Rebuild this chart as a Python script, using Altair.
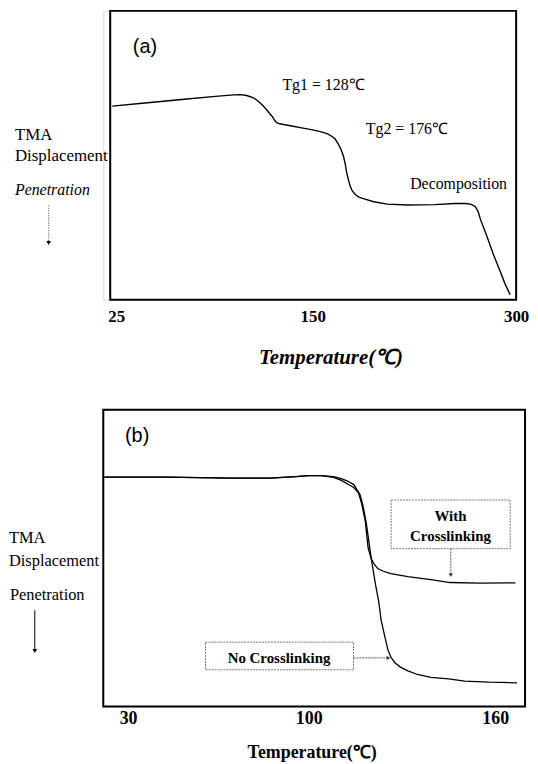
import altair as alt
import pandas as pd

SERIF = "Liberation Serif"
SANS = "Liberation Sans"

# ---------------- Panel (a) data ----------------
a_temp = [22.5, 45, 70, 90, 100, 104, 108, 112, 115, 118, 121, 123.3, 124.5, 125.4, 126.5,
          127.5, 129, 135, 143, 150, 157, 161, 164, 166.5, 169, 171, 172.7, 174, 175.1,
          176.3, 177.6, 179, 181.2, 184, 188.6, 195, 205, 220, 240, 255, 263, 267, 270,
          272, 273.7, 278, 283, 288, 292, 295.6]
a_disp = [67.0, 68.2, 69.5, 70.5, 70.9, 71.0, 70.7, 70.0, 68.9, 67.4, 65.6, 64.0, 63.3, 62.4,
          61.6, 61.2, 60.9, 60.3, 59.5, 58.8, 58.0, 57.4, 56.6, 55.7, 53.8, 51.9, 49.7, 47.0,
          44.0, 41.6, 39.4, 37.8, 36.5, 35.5, 34.8, 33.9, 33.1, 32.8, 32.9, 33.3, 33.3, 33.0,
          32.2, 30.5, 27.8, 22.6, 16.0, 10.1, 5.3, 1.7]
a_ticks = [25, 150, 300]
a_notes = ["Tg1 = 128℃", "Tg2 = 176℃", "Decomposition"]
a_notes_t = [158.0, 219.5, 257.6]
a_notes_v = [74.2, 59.1, 40.2]

# ---------------- Panel (b) data ----------------
b_temp_with = [20.8, 45, 70, 85, 95, 100, 104, 108, 110.5, 112.5, 114.5, 116, 117, 118.2, 119.1,
               120.1, 121.2, 122.2, 124, 126.4, 131.9, 139.3, 145.5, 155, 166.5]
b_disp_with = [77.3, 77.3, 77.0, 77.0, 77.5, 77.8, 77.8, 77.2, 76.2, 75.0, 73.8, 72.0, 68.5, 62.5,
               53.5, 49.8, 47.8, 46.5, 45.6, 44.8, 43.8, 42.8, 41.8, 41.6, 41.7]
b_temp_no = [20.8, 45, 70, 85, 95, 100, 104, 108, 110.5, 112.5, 114.5, 116.5, 117.5, 118.5, 119.3,
             120.1, 121.5, 122.5, 123.3, 124.5, 125.5, 126.5, 127.8, 129.5, 131.9, 135, 139.3,
             145, 150.2, 158, 167]
b_disp_no = [77.3, 77.3, 77.0, 77.0, 77.5, 77.8, 77.8, 77.5, 76.8, 76.0, 74.8, 71.5, 67.5, 62.0,
             56.0, 50.0, 41.0, 35.5, 29.1, 23.5, 19.0, 16.5, 14.7, 13.3, 12.0, 10.8, 9.8, 9.3,
             8.6, 8.2, 8.0]
b_ticks = [30, 100, 160]

# ---------------- shared helpers ----------------
one = pd.DataFrame({"k": [0]})


def ptext(txt, x, y, size=17, style="normal", weight="normal", font=SERIF, align="left"):
    return alt.Chart(one).mark_text(
        text=txt, font=font, fontSize=size, fontStyle=style, fontWeight=weight,
        align=align, baseline="middle", color="black"
    ).encode(x=alt.value(x), y=alt.value(y))


def frame(x0, x1, h):
    return alt.Chart(one).mark_rect(fillOpacity=0, stroke="black", strokeWidth=2).encode(
        x=alt.value(x0), x2=alt.value(x1), y=alt.value(0), y2=alt.value(h))


def left_anchor():
    return alt.Chart(one).mark_rule(opacity=0).encode(
        x=alt.value(-95), y=alt.value(0), y2=alt.value(5))


def xaxis(ticks, title, tsize, tstyle, lsize, lpad, tpad, titleX=None):
    kw = dict(values=ticks, title=title, domain=False, ticks=False, tickSize=0, grid=False,
              format="d", labelFont=SERIF, labelFontSize=lsize, labelFontWeight="bold",
              labelColor="black", labelPadding=lpad, labelFlush=False, labelOverlap=False,
              titleFont=SERIF, titleFontSize=tsize, titleFontWeight="bold",
              titleFontStyle=tstyle, titleColor="black", titlePadding=tpad)
    if titleX is not None:
        kw["titleX"] = titleX
    return alt.Axis(**kw)


# ---------------- Panel (a) ----------------
WA, HA = 416, 291
xa = alt.Scale(domain=a_ticks, range=[13, 211, 416], nice=False, zero=False)
ya = alt.Scale(domain=[0, 100], nice=False, zero=False)

df_a = pd.DataFrame({"T": a_temp, "v": a_disp})
line_a = alt.Chart(df_a).mark_line(color="black", strokeWidth=1.4).encode(
    x=alt.X("T:Q", scale=xa, axis=xaxis(a_ticks, "Temperature(℃)", 21, "italic", 17, 9, 22, 229)),
    y=alt.Y("v:Q", scale=ya, axis=None),
)
notes_a = alt.Chart(pd.DataFrame({"T": a_notes_t, "v": a_notes_v, "t": a_notes})).mark_text(
    font=SERIF, fontSize=16, color="black").encode(
    x=alt.X("T:Q", scale=xa), y=alt.Y("v:Q", scale=ya), text="t:N")
label_a = alt.Chart(pd.DataFrame({"T": [43.3], "v": [87.6], "t": ["(a)"]})).mark_text(
    font=SANS, fontSize=20, color="black").encode(
    x=alt.X("T:Q", scale=xa), y=alt.Y("v:Q", scale=ya), text="t:N")

arrow_a = alt.Chart(one).mark_rule(color="#444", strokeDash=[1, 1.5], strokeWidth=1).encode(
    x=alt.value(-55), y=alt.value(196), y2=alt.value(233))
head_a = alt.Chart(one).mark_point(shape="triangle-down", filled=True, size=22, color="black",
                                   opacity=1).encode(x=alt.value(-55), y=alt.value(234))

panel_a = alt.layer(
    left_anchor(), frame(7, 416, HA), line_a, notes_a, label_a,
    ptext("TMA", -89, 125), ptext("Displacement", -89, 146),
    ptext("Penetration", -89, 181, size=16, style="italic"),
    arrow_a, head_a,
).properties(width=WA, height=HA)

# ---------------- Panel (b) ----------------
WB, HB = 425, 299
xb = alt.Scale(domain=b_ticks, range=[25, 207, 395], nice=False, zero=False)
yb = alt.Scale(domain=[0, 100], nice=False, zero=False)

df_b = pd.concat([
    pd.DataFrame({"T": b_temp_with, "v": b_disp_with, "s": "With Crosslinking"}),
    pd.DataFrame({"T": b_temp_no, "v": b_disp_no, "s": "No Crosslinking"}),
])
line_b = alt.Chart(df_b).mark_line(color="black", strokeWidth=1.3).encode(
    x=alt.X("T:Q", scale=xb, axis=xaxis(b_ticks, "Temperature(℃)", 18, "normal", 18, 3, 16)),
    y=alt.Y("v:Q", scale=yb, axis=None),
    detail="s:N",
)
boxes_b = alt.Chart(pd.DataFrame({
    "t0": [126.5, 60.0], "t1": [164.8, 114.4], "v0": [53.2, 12.4], "v1": [69.6, 21.7]})
).mark_rect(fillOpacity=0, stroke="#777", strokeDash=[2, 1], strokeWidth=1).encode(
    x=alt.X("t0:Q", scale=xb), x2="t1:Q", y=alt.Y("v0:Q", scale=yb), y2="v1:Q")
box_text_b = alt.Chart(pd.DataFrame({
    "T": [145.6, 145.6, 88.5], "v": [64.2, 57.5, 16.4],
    "t": ["With", "Crosslinking", "No Crosslinking"]})).mark_text(
    font=SERIF, fontSize=15, fontWeight="bold", color="black").encode(
    x=alt.X("T:Q", scale=xb), y=alt.Y("v:Q", scale=yb), text="t:N")
label_b = alt.Chart(pd.DataFrame({"T": [33.5], "v": [91.0], "t": ["(b)"]})).mark_text(
    font=SANS, fontSize=20, color="black").encode(
    x=alt.X("T:Q", scale=xb), y=alt.Y("v:Q", scale=yb), text="t:N")

arr_with = alt.Chart(pd.DataFrame({"T": [145.7], "v0": [53.2], "v1": [45.0]})).mark_rule(
    color="#555", strokeDash=[2, 1], strokeWidth=1).encode(
    x=alt.X("T:Q", scale=xb), y=alt.Y("v0:Q", scale=yb), y2="v1:Q")
head_with = alt.Chart(pd.DataFrame({"T": [145.7], "v": [44.3]})).mark_point(
    shape="triangle-down", filled=True, size=18, color="#333", opacity=1).encode(
    x=alt.X("T:Q", scale=xb), y=alt.Y("v:Q", scale=yb))
arr_no = alt.Chart(pd.DataFrame({"T0": [114.4], "T1": [125.0], "v": [16.4]})).mark_rule(
    color="#555", strokeDash=[2, 1], strokeWidth=1).encode(
    x=alt.X("T0:Q", scale=xb), x2="T1:Q", y=alt.Y("v:Q", scale=yb))
head_no = alt.Chart(pd.DataFrame({"T": [125.6], "v": [16.4]})).mark_point(
    shape="triangle-right", filled=True, size=18, color="#333", opacity=1).encode(
    x=alt.X("T:Q", scale=xb), y=alt.Y("v:Q", scale=yb))

arrow_b = alt.Chart(one).mark_rule(color="black", strokeWidth=1).encode(
    x=alt.value(-69), y=alt.value(202), y2=alt.value(241))
head_b = alt.Chart(one).mark_point(shape="triangle-down", filled=True, size=22, color="black",
                                   opacity=1).encode(x=alt.value(-69), y=alt.value(243))

panel_b = alt.layer(
    left_anchor(), frame(0, WB, HB), line_b, boxes_b, box_text_b, label_b,
    arr_with, head_with, arr_no, head_no,
    ptext("TMA", -95, 129, size=16.5), ptext("Displacement", -95, 152, size=16.5),
    ptext("Penetration", -94, 187, size=16.5),
    arrow_b, head_b,
).properties(width=WB, height=HB)

chart = alt.vconcat(panel_a, panel_b, spacing=40).properties(
    padding={"left": 0, "top": -2, "right": 0, "bottom": 0}
).configure_view(stroke=None).configure(background="white")

chart.save("out.html", embed_options={"renderer": "svg", "actions": False})
